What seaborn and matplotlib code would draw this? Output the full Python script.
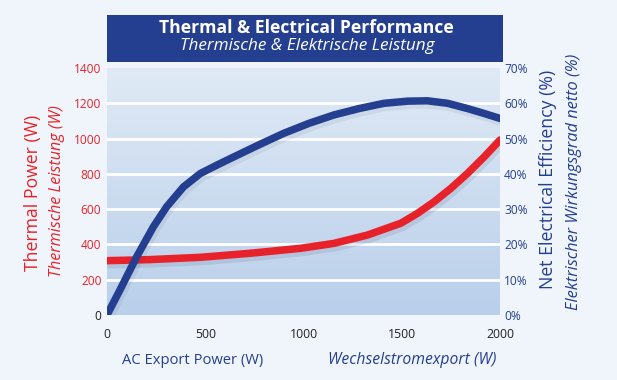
import numpy as np
import pandas as pd
import matplotlib
matplotlib.use("Agg")
import matplotlib.pyplot as plt
import matplotlib.patheffects as pe
from matplotlib.patches import Rectangle
import seaborn as sns

# ---- data ----
eff_x = [0, 66, 151, 236, 304, 389, 475, 560, 645, 772, 900, 1027, 1155, 1282, 1410, 1529, 1631, 1733, 1835, 1920, 2000]
eff_y = [0, 7.1, 16.5, 25, 30.7, 36.3, 40.1, 42.5, 44.8, 48.2, 51.5, 54.3, 56.7, 58.5, 60, 60.6, 60.7, 60, 58.5, 57.1, 55.7]
th_x = [0, 219, 475, 730, 985, 1155, 1325, 1495, 1580, 1665, 1750, 1835, 1920, 2000]
th_y = [308, 314, 327, 350, 378, 406, 453, 520, 576, 642, 718, 803, 897, 992]
x_ticks = [0, 500, 1000, 1500, 2000]
left_ticks = [0, 200, 400, 600, 800, 1000, 1200, 1400]
right_ticks = [0, 10, 20, 30, 40, 50, 60, 70]

RED = "#e8222a"
NAVY = "#243f8f"
BG = "#f0f5fb"

sns.set_theme(style="white")
plt.rcParams["font.family"] = ["Open Sans", "DejaVu Sans"]

fig = plt.figure(figsize=(6.17, 3.80), dpi=100, facecolor=BG)
ax = fig.add_axes([107/617, 1-315/380, 393/617, 247/380])
ax.set_facecolor("none")

# gradient background
grad = np.linspace(0, 1, 256).reshape(-1, 1)
cmap = matplotlib.colors.LinearSegmentedColormap.from_list("g", ["#b9cfea", "#e0eaf6"])
ax.imshow(grad, extent=[0, 2000, 0, 1400], origin="lower", aspect="auto", cmap=cmap, zorder=0)
for v in left_ticks[1:-1]:
    ax.axhline(v, color="white", lw=2.0, zorder=1)

df_th = pd.DataFrame({"x": th_x, "y": th_y})
sns.lineplot(data=df_th, x="x", y="y", ax=ax, color=RED, lw=5.4, zorder=3,
             solid_capstyle="round", solid_joinstyle="round")
ax.lines[-1].set_path_effects([pe.SimpleLineShadow(offset=(1.5, -3), alpha=0.10, shadow_color="#203050"), pe.Normal()])

ax.set_xlim(0, 2000)
ax.set_ylim(0, 1400)
ax.set_xticks(x_ticks)
ax.set_xticklabels([str(t) for t in x_ticks], fontsize=8.8, color="#222222")
ax.set_yticks(left_ticks)
ax.set_yticklabels([str(t) for t in left_ticks], fontsize=8.6, color=RED)
ax.get_yticklabels()[0].set_color("#222222")
ax.tick_params(axis="y", length=0, pad=4)
ax.tick_params(axis="x", length=0, pad=9)
ax.set_xlabel("")
ax.set_ylabel("")
for s in ax.spines.values():
    s.set_visible(False)

ax2 = ax.twinx()
df_eff = pd.DataFrame({"x": eff_x, "y": eff_y})
sns.lineplot(data=df_eff, x="x", y="y", ax=ax2, color=NAVY, lw=5.4, zorder=3,
             solid_capstyle="round", solid_joinstyle="round")
ax2.lines[-1].set_path_effects([pe.SimpleLineShadow(offset=(1.5, -3), alpha=0.07, shadow_color="#203050"), pe.Normal()])
ax2.set_ylim(0, 70)
ax2.set_xlim(0, 2000)
ax2.set_yticks(right_ticks)
ax2.set_yticklabels([f"{t}%" for t in right_ticks], fontsize=8.6, color=NAVY)
ax2.tick_params(length=0, pad=3)
ax2.set_ylabel("")
for s in ax2.spines.values():
    s.set_visible(False)

# title box
fig.patches.append(Rectangle((107/617, 1-62/380), 396/617, 47/380, transform=fig.transFigure,
                             facecolor=NAVY, edgecolor="none", zorder=5))
fig.text(306/617, 1-28/380, "Thermal & Electrical Performance", ha="center", va="center",
         color="white", fontsize=12.6, fontweight="bold", zorder=6)
fig.text(307/617, 1-46/380, "Thermische & Elektrische Leistung", ha="center", va="center",
         color="white", fontsize=12.3, style="italic", zorder=6)

# axis labels
fig.text(33/617, 1-193/380, "Thermal Power (W)", rotation=90, ha="center", va="center",
         color=RED, fontsize=12.7)
fig.text(57/617, 1-191/380, "Thermische Leistung (W)", rotation=90, ha="center", va="center",
         color=RED, fontsize=11.6, style="italic")
fig.text(548/617, 1-179/380, "Net Electrical Efficiency (%)", rotation=90, ha="center", va="center",
         color=NAVY, fontsize=12.7)
fig.text(574/617, 1-182/380, "Elektrischer Wirkungsgrad netto (%)", rotation=90, ha="center", va="center",
         color=NAVY, fontsize=11.8, style="italic")
fig.text(122/617, 1-360/380, "AC Export Power (W)", ha="left", va="center", color=NAVY, fontsize=10.6)
fig.text(328/617, 1-360/380, "Wechselstromexport (W)", ha="left", va="center", color=NAVY,
         fontsize=11.3, style="italic")

fig.savefig("out.png", dpi=100, facecolor=BG)
